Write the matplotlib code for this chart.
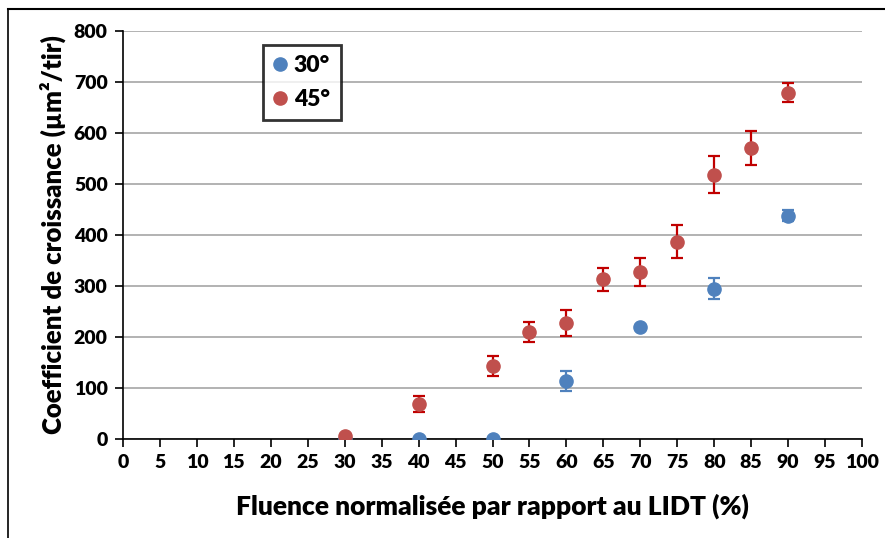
import matplotlib
matplotlib.use("Agg")
import matplotlib.pyplot as plt
from matplotlib.lines import Line2D

plt.rcParams['font.family'] = ['Lato', 'DejaVu Sans']

# Fluence (% of LIDT) and growth coefficient (µm²/shot)
fluence_30 = [30, 40, 50, 60, 70, 80, 90]
coef_30 = [0, 0, 0, 114, 219, 295, 438]
err_30 = [0, 0, 0, 19, 0, 20, 11]

fluence_45 = [30, 40, 50, 55, 60, 65, 70, 75, 80, 85, 90]
coef_45 = [6, 69, 143, 210, 227, 313, 327, 387, 518, 570, 679]
err_45 = [0, 16, 20, 20, 26, 22, 27, 33, 36, 33, 19]

x_ticks = list(range(0, 101, 5))
y_ticks = list(range(0, 801, 100))

blue = '#4F81BD'
red = '#C0504D'
red_err = '#C00000'
weight = 'heavy'

fig = plt.figure(figsize=(8.85, 5.38), dpi=100)
ax = fig.add_axes([123 / 885, 1 - 439 / 538, (862 - 123) / 885, (439 - 31) / 538])

ax.errorbar(fluence_30, coef_30, yerr=err_30, fmt='o', color=blue, ecolor=blue,
            markersize=9.5, elinewidth=1.6, capsize=4, capthick=1.6, zorder=3,
            label='30°')
ax.errorbar(fluence_45, coef_45, yerr=err_45, fmt='o', color=red, ecolor=red_err,
            markersize=9.5, elinewidth=1.6, capsize=4, capthick=1.6, zorder=4,
            label='45°')

ax.set_xlim(0, 100)
ax.set_ylim(0, 800)
ax.set_xticks(x_ticks)
ax.set_yticks(y_ticks)
ax.yaxis.grid(True, color='#A6A6A6', linewidth=1.2)
ax.set_axisbelow(True)

for s in ['top', 'right']:
    ax.spines[s].set_visible(False)
for s in ['left', 'bottom']:
    ax.spines[s].set_color('black')
    ax.spines[s].set_linewidth(1.2)

ax.tick_params(axis='both', direction='out', length=6, width=1.2, color='black',
               labelsize=14, pad=5)
for lbl in ax.get_xticklabels() + ax.get_yticklabels():
    lbl.set_fontweight(weight)

ax.set_xlabel('Fluence normalisée par rapport au LIDT (%)', fontsize=19,
              fontweight=weight, labelpad=16)
ax.set_ylabel('Coefficient de croissance (µm²/tir)', fontsize=18.5,
              fontweight=weight, labelpad=6)

handles = [
    Line2D([], [], marker='o', linestyle='none', color=blue, markersize=9.5),
    Line2D([], [], marker='o', linestyle='none', color=red, markersize=9.5),
]
leg = ax.legend(handles, ['30°', '45°'], loc='upper left',
                bbox_to_anchor=((263 - 123) / (862 - 123), (439 - 45) / (439 - 31)),
                frameon=True, fancybox=False, borderpad=0.45, handletextpad=0.3,
                handlelength=0.6, labelspacing=0.55, borderaxespad=0,
                prop={'weight': weight, 'size': 16.5})
leg.get_frame().set_edgecolor('black')
leg.get_frame().set_linewidth(2)

# Outer frame along top and left edges
fig.add_artist(Line2D([8 / 885, 1], [1 - 9 / 538, 1 - 9 / 538], color='black',
                      linewidth=1.5, transform=fig.transFigure))
fig.add_artist(Line2D([8 / 885, 8 / 885], [0, 1 - 9 / 538], color='black',
                      linewidth=1.2, transform=fig.transFigure))

fig.savefig('out.png', dpi=100)
